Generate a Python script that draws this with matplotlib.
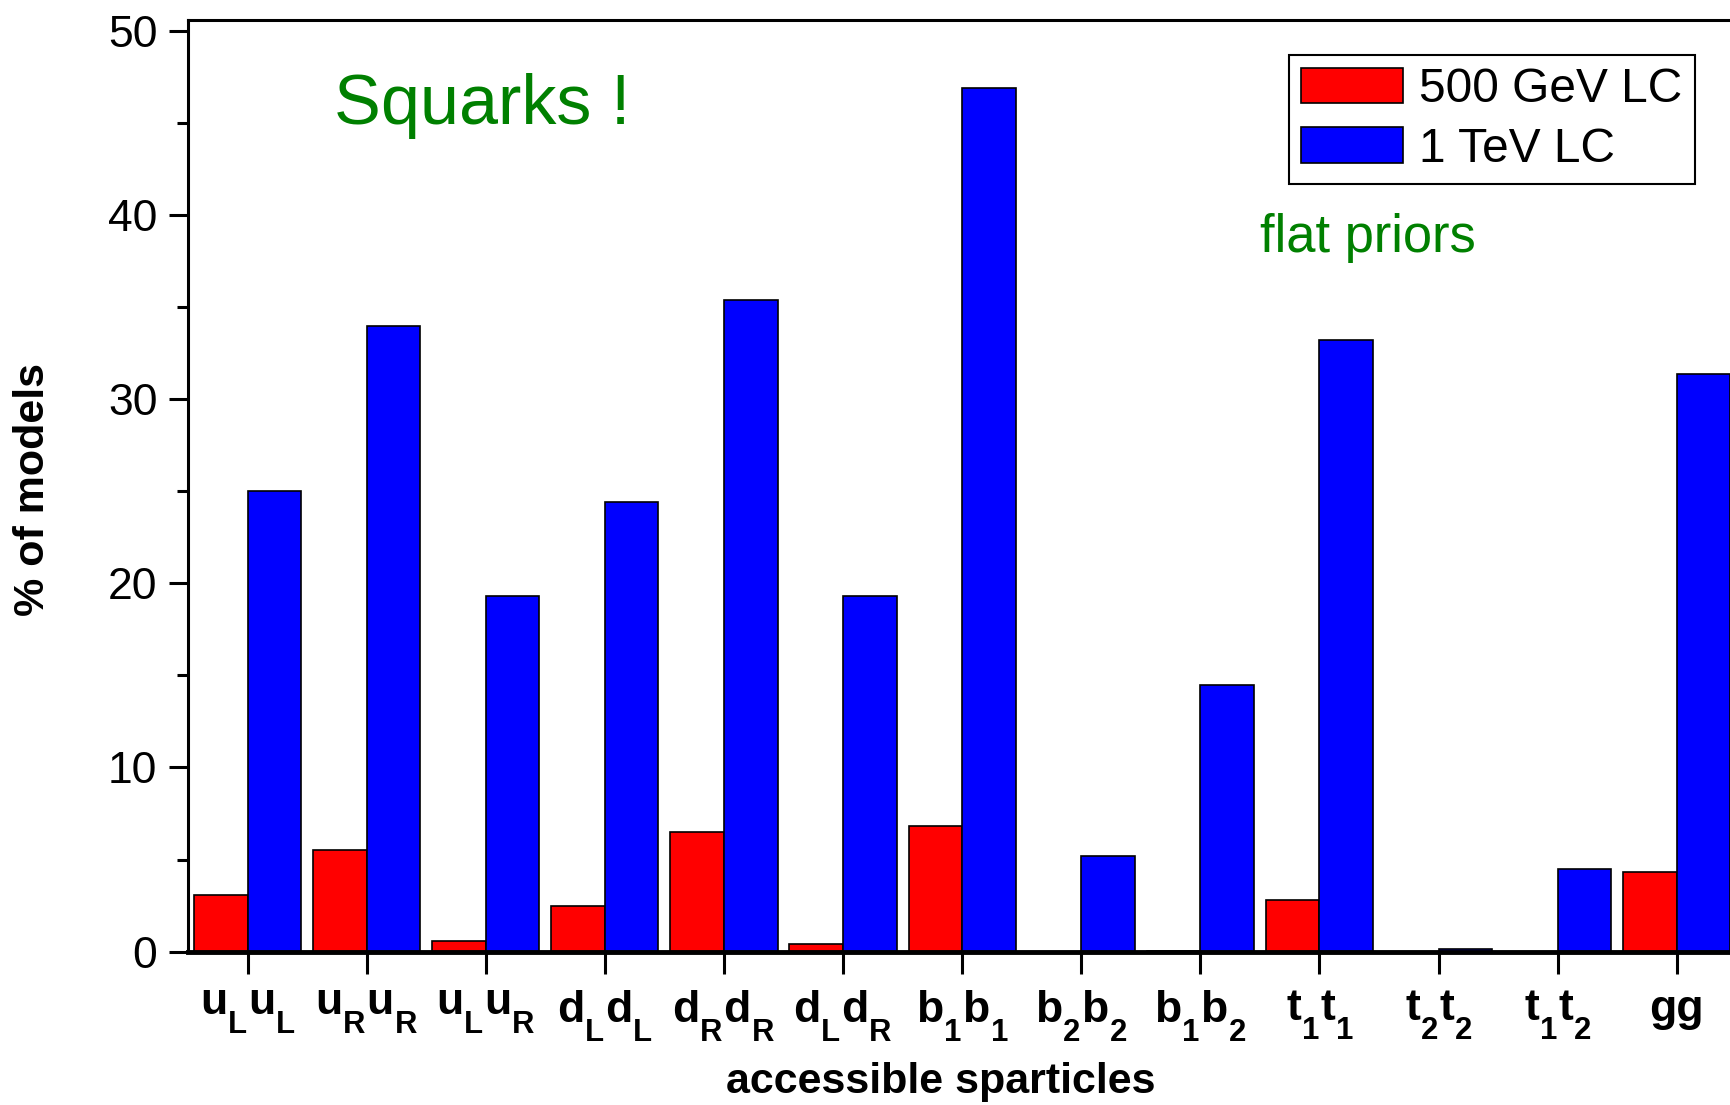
import matplotlib.pyplot as plt
import matplotlib._mathtext as mathtext_impl
import numpy as np

plt.rcParams['font.family'] = ['Liberation Sans', 'DejaVu Sans']
plt.rcParams['mathtext.fontset'] = 'custom'
plt.rcParams['mathtext.rm'] = 'Liberation Sans'
plt.rcParams['mathtext.bf'] = 'Liberation Sans:bold'
plt.rcParams['mathtext.it'] = 'Liberation Sans:italic'
# drop the subscripts a bit lower than the default
mathtext_impl.FontConstantsBase.sub1 = 0.8
mathtext_impl.FontConstantsBase.script_space = 0.07

# squark / gluino pair channels
pairs = [r'$\mathbf{u_L u_L}$', r'$\mathbf{u_R u_R}$', r'$\mathbf{u_L u_R}$',
         r'$\mathbf{d_L d_L}$', r'$\mathbf{d_R d_R}$', r'$\mathbf{d_L d_R}$',
         r'$\mathbf{b_1 b_1}$', r'$\mathbf{b_2 b_2}$', r'$\mathbf{b_1 b_2}$',
         r'$\mathbf{t_1 t_1}$', r'$\mathbf{t_2 t_2}$', r'$\mathbf{t_1 t_2}$',
         'gg']
# % of models with the pair kinematically accessible
lc500 = [3.1, 5.5, 0.6, 2.5, 6.5, 0.4, 6.8, 0.0, 0.05, 2.8, 0.0, 0.0, 4.3]
lc1000 = [25.0, 34.0, 19.3, 24.4, 35.4, 19.3, 46.9, 5.2, 14.5, 33.2, 0.15, 4.5, 31.35]

fig = plt.figure(figsize=(17.31, 11.05), dpi=100)
ax = fig.add_axes([0.1086, 0.1388, 0.8945, 0.8432])

x = np.arange(len(pairs))
w = 0.45
ax.bar(x, lc500, width=-w, align='edge', color='#ff0000', edgecolor='black',
       linewidth=1.2, label='500 GeV LC')
ax.bar(x, lc1000, width=w, align='edge', color='#0000ff', edgecolor='black',
       linewidth=1.2, label='1 TeV LC')

ax.set_xlim(-0.5, 12.5)
ax.set_ylim(0, 50.6)
ax.set_xticks(x, pairs)
ax.set_yticks(range(0, 51, 10))
ax.set_yticks(range(5, 50, 10), minor=True)

ax.tick_params(axis='both', which='major', direction='out', width=2.2)
ax.tick_params(axis='x', length=16, pad=11, labelsize=32)
ax.tick_params(axis='y', length=14, pad=8, labelsize=32)
ax.tick_params(axis='y', which='minor', direction='out', length=8, width=2.2)
for lbl in ax.get_xticklabels():
    lbl.set_fontweight('bold')

for s in ax.spines.values():
    s.set_linewidth(2.2)
ax.spines['bottom'].set_linewidth(3.5)

ax.set_xlabel('accessible sparticles', fontsize=31, fontweight='bold')
ax.set_ylabel('% of models', fontsize=31, fontweight='bold')
ax.xaxis.set_label_coords(0.486, -0.14)
ax.xaxis.label.set_va('center')
ax.yaxis.set_label_coords(-0.100, 0.4965)
ax.yaxis.label.set_va('center')

leg = ax.legend(loc='upper right', bbox_to_anchor=(0.979, 0.950),
                bbox_transform=fig.transFigure, fontsize=34.5, frameon=True,
                fancybox=False, edgecolor='black', framealpha=1,
                handlelength=2.12, handleheight=0.76, borderaxespad=0,
                borderpad=0.25, labelspacing=0.3, handletextpad=0.35)
leg.get_frame().set_linewidth(1.5)

fig.text(0.1932, 0.888, 'Squarks !', color='#008000', fontsize=50.5,
         ha='left', va='baseline')
fig.text(0.7277, 0.772, 'flat priors', color='#008000', fontsize=37.8,
         ha='left', va='baseline')

fig.savefig('out.png', dpi=100)
